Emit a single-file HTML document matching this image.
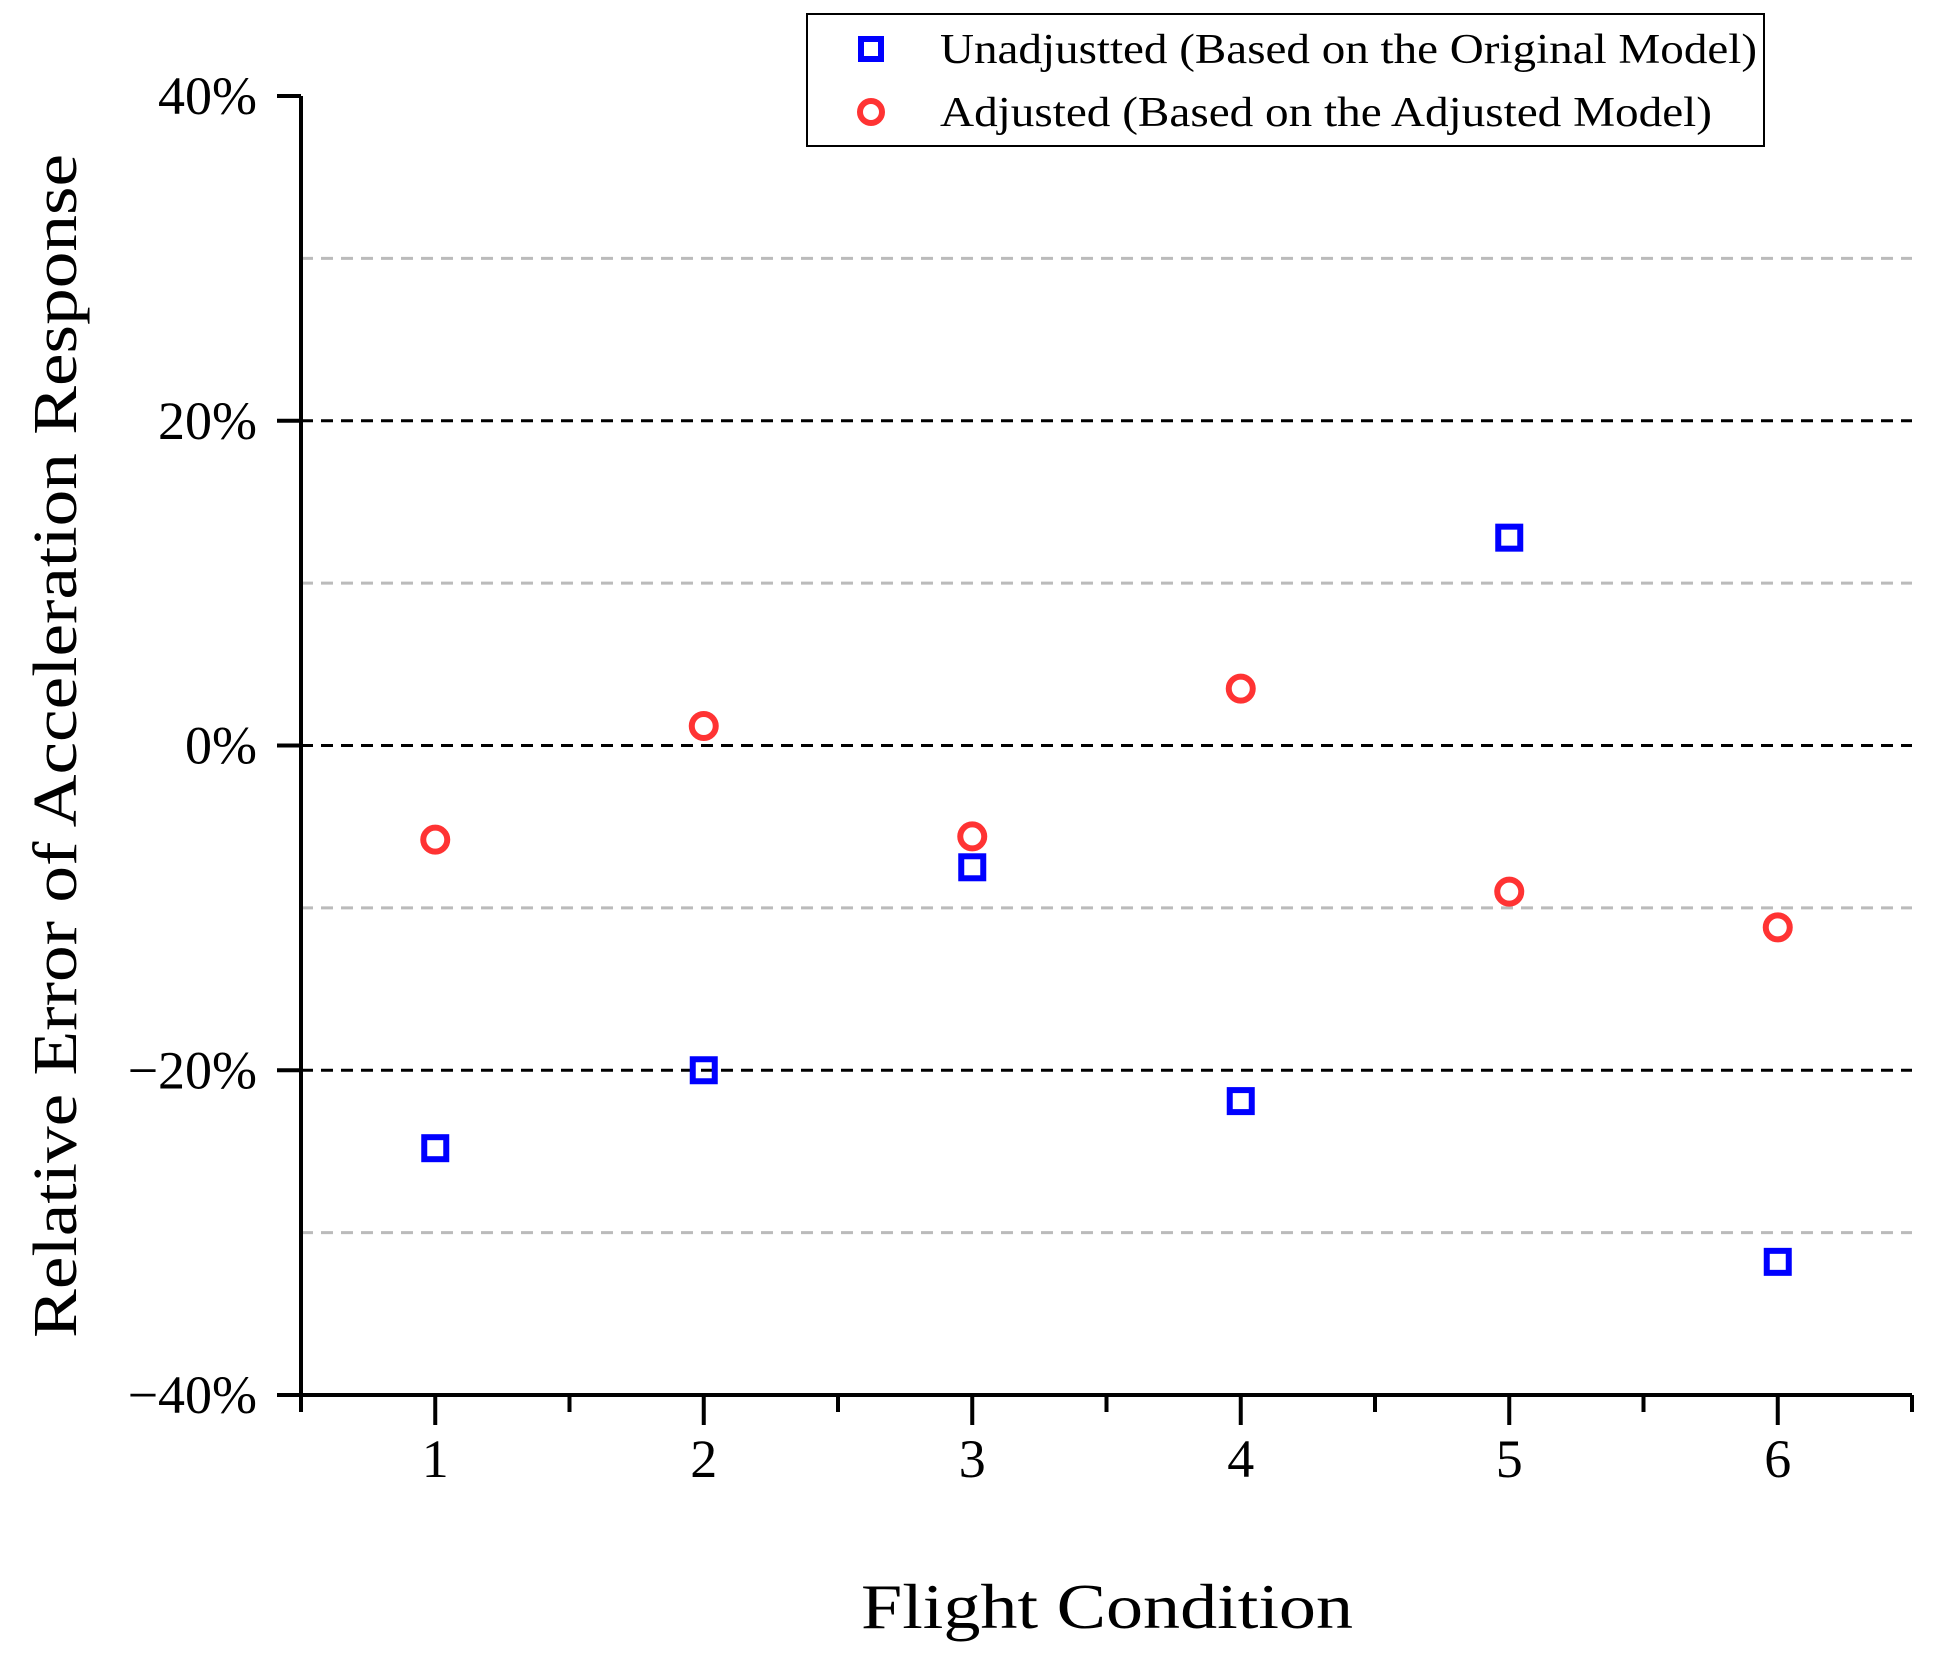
<!DOCTYPE html>
<html><head><meta charset="utf-8"><style>
html,body{margin:0;padding:0;background:#fff;}
svg{display:block;font-family:"Liberation Serif",serif;}
</style></head><body>
<svg id="chart" width="1934" height="1655" viewBox="0 0 1934 1655" xmlns="http://www.w3.org/2000/svg">
<g id="grid"></g>
<g id="axes"></g>
<g id="marks"></g>
<text transform="translate(76,746) rotate(-90)" text-anchor="middle" font-size="62" textLength="1184" lengthAdjust="spacingAndGlyphs">Relative Error of Acceleration Response</text>
<text x="1107" y="1628" text-anchor="middle" font-size="64" textLength="492" lengthAdjust="spacingAndGlyphs">Flight Condition</text>
<g>
<rect x="807" y="14" width="957" height="132" fill="#fff" stroke="#000" stroke-width="2"/>
<rect x="861" y="39" width="20" height="20" fill="none" stroke="#0000ff" stroke-width="6"/>
<text x="940" y="63" font-size="42" textLength="817" lengthAdjust="spacingAndGlyphs">Unadjustted (Based on the Original Model)</text>
<circle cx="871" cy="112" r="11" fill="none" stroke="#ff3333" stroke-width="6"/>
<text x="940" y="126" font-size="42" textLength="772" lengthAdjust="spacingAndGlyphs">Adjusted (Based on the Adjusted Model)</text>
</g>
</svg>
<script>
const categories = [1, 2, 3, 4, 5, 6];
const unadjusted = [-24.8, -20.0, -7.5, -21.9, 12.8, -31.8];
const adjusted = [-5.8, 1.2, -5.6, 3.5, -9.0, -11.2];
const yTicks = [40, 20, 0, -20, -40];
const yTickLabels = ["40%", "20%", "0%", "\u221220%", "\u221240%"];
const blackGrid = [20, 0, -20];
const grayGrid = [30, 10, -10, -30];

const NS = "http://www.w3.org/2000/svg";
const X0 = 301, X1 = 1912, Y0 = 96, Y1 = 1395;
function sx(v){ return X0 + (v - 0.5) / 6 * (X1 - X0); }
function sy(v){ return Y0 + (40 - v) / 80 * (Y1 - Y0); }
function mk(tag, attrs, parent){
  const e = document.createElementNS(NS, tag);
  for (const k in attrs) e.setAttribute(k, attrs[k]);
  parent.appendChild(e);
  return e;
}
const grid = document.getElementById('grid');
const axes = document.getElementById('axes');
const marks = document.getElementById('marks');

grayGrid.forEach(v => {
  const l = mk('line', {x1: X0, x2: X1, y1: sy(v), y2: sy(v), stroke: '#bbbbbb', 'stroke-width': 3, 'stroke-dasharray': '12 8'}, grid);
  
  
});
blackGrid.forEach(v => {
  const l = mk('line', {x1: X0, x2: X1, y1: sy(v), y2: sy(v), stroke: '#000', 'stroke-width': 3, 'stroke-dasharray': '12 8'}, grid);
  
  
});

const ya = mk('line', {x1: X0, x2: X0, y1: Y0, y2: Y1 + 17, stroke: '#000', 'stroke-width': 4}, axes);


const xa = mk('line', {x1: X0 - 2, x2: X1, y1: Y1, y2: Y1, stroke: '#000', 'stroke-width': 4}, axes);



yTicks.forEach((v, i) => {
  const t = mk('line', {x1: X0 - 24, x2: X0, y1: sy(v), y2: sy(v), stroke: '#000', 'stroke-width': 4}, axes);
  
  
  const tx = mk('text', {x: 257, y: sy(v) + 18, 'text-anchor': 'end', 'font-size': 54}, axes);
  tx.textContent = yTickLabels[i];
  
  
});
for (let v = 1.5; v <= 6.5; v += 1) {
  const t = mk('line', {x1: sx(v), x2: sx(v), y1: Y1, y2: Y1 + 17, stroke: '#000', 'stroke-width': 4}, axes);
  
  
}
categories.forEach(c => {
  const t = mk('line', {x1: sx(c), x2: sx(c), y1: Y1, y2: Y1 + 30, stroke: '#000', 'stroke-width': 4}, axes);
  
  
  const tx = mk('text', {x: sx(c), y: 1477, 'text-anchor': 'middle', 'font-size': 54}, axes);
  tx.textContent = String(c);
  
  
});

categories.forEach((c, i) => {
  const s = mk('rect', {x: sx(c) - 11, y: sy(unadjusted[i]) - 11, width: 22, height: 22, fill: 'none', stroke: '#0000ff', 'stroke-width': 6}, marks);
  
  
});
categories.forEach((c, i) => {
  const p = mk('circle', {cx: sx(c), cy: sy(adjusted[i]), r: 12, fill: 'none', stroke: '#ff3333', 'stroke-width': 6}, marks);
  
  
});
</script>
</body></html>
